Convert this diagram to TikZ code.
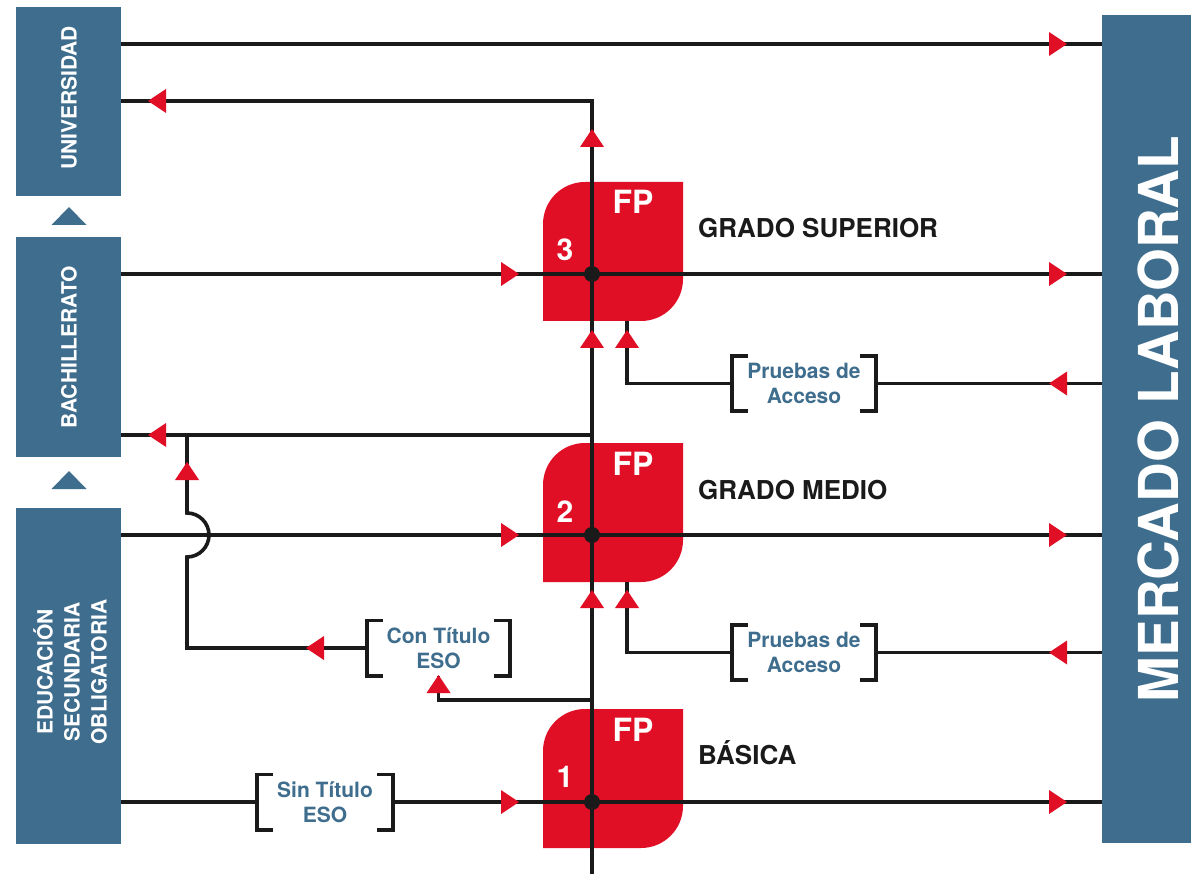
\documentclass[tikz,border=0pt]{standalone}
\usepackage{fontspec}
\setmainfont{TeX Gyre Heros}
\definecolor{boxblue}{HTML}{3E6D8D}
\definecolor{fpred}{HTML}{E00F26}
\definecolor{linek}{HTML}{1A1A1A}
\newcommand{\fpshape}[1]{\fill[fpred] (543,#1+139) -- (543,#1+42) .. controls (543,#1+18.8) and (561.8,#1) .. (585,#1) -- (683,#1) -- (683,#1+97) .. controls (683,#1+120.2) and (664.2,#1+139) .. (641,#1+139) -- cycle;}
\newcommand{\bracketpair}[1]{%
  \draw[bracket] ([xshift=16pt]#1.north west) -| (#1.south west) -- ++(16,0);
  \draw[bracket] ([xshift=-16pt]#1.north east) -| (#1.south east) -- ++(-16,0);}
\begin{document}
\begin{tikzpicture}[x=1pt,y=-1pt,
  conn/.style={draw=linek, line width=3.6pt},
  bracket/.style={draw=linek, line width=3.6pt},
  sidebox/.style={fill=boxblue, inner sep=0pt, outer sep=0pt},
  sidetext/.style={text=white, font=\bfseries\fontsize{21}{27}\selectfont, rotate=90, align=center, inner sep=0pt},
  fptext/.style={text=white, font=\bfseries\fontsize{32}{32}\selectfont, inner sep=0pt, anchor=base},
  numtext/.style={text=white, font=\bfseries\fontsize{30}{30}\selectfont, inner sep=0pt, anchor=base},
  levellabel/.style={text=linek, font=\bfseries\fontsize{26}{26}\selectfont, anchor=base west, inner sep=0pt},
  bracketlabel/.style={text=boxblue, font=\bfseries\fontsize{21}{25}\selectfont, align=center, inner sep=0pt, minimum height=55pt},
  junction/.style={circle, fill=linek, minimum size=16pt, inner sep=0pt},
  fpanchor/.style={minimum width=140pt, minimum height=139pt, inner sep=0pt},
  triR/.pic={\fill[fpred] (-18,-12) -- (0,0) -- (-18,12) -- cycle;},
  triL/.pic={\fill[fpred] (18,-12) -- (0,0) -- (18,12) -- cycle;},
  triU/.pic={\fill[fpred] (-12,18) -- (0,0) -- (12,18) -- cycle;},
]
\useasboundingbox (0,0) rectangle (1191,874);
\fill[white] (0,0) rectangle (1191,874);

% side boxes
\node[sidebox, minimum width=105pt, minimum height=189pt] (uni) at (68.5,101.5) {};
\node[sidebox, minimum width=105pt, minimum height=220pt] (bach) at (68.5,347) {};
\node[sidebox, minimum width=105pt, minimum height=336pt] (eso) at (68.5,676) {};
\node[sidebox, minimum width=89pt, minimum height=828pt] (merc) at (1146.5,429) {};

\node[sidetext] (unitxt) at (69,98) {UNIVERSIDAD};
\node[sidetext] (bachtxt) at (69,347) {BACHILLERATO};
\node[sidetext] (esotxt) at (70,672) {EDUCACIÓN\\SECUNDARIA\\OBLIGATORIA};
\node[text=white, font=\bfseries\fontsize{55}{55}\selectfont, rotate=90, inner sep=0pt] (merctxt) at (1158,419) {MERCADO LABORAL};

\fill[boxblue] (51.5,225) -- (69,207) -- (86.5,225) -- cycle;
\fill[boxblue] (51.5,489) -- (69,471) -- (86.5,489) -- cycle;

% FP boxes
\fpshape{182}
\fpshape{443}
\fpshape{709}
\node[fpanchor] (fp3) at (613,251.5) {};
\node[fpanchor] (fp2) at (613,512.5) {};
\node[fpanchor] (fp1) at (613,778.5) {};
\node[fptext] (fp3t) at (633,214) {FP};
\node[fptext] (fp2t) at (633,475) {FP};
\node[fptext] (fp1t) at (633,741) {FP};
\node[numtext] (n3) at (565,261) {3};
\node[numtext] (n2) at (565,522) {2};
\node[numtext] (n1) at (565,787) {1};

% bracket labels
\node[bracketlabel, minimum width=144pt] (pa1) at (804,383.5) {Pruebas de\\Acceso};
\node[bracketlabel, minimum width=144pt] (pa2) at (804,652.5) {Pruebas de\\Acceso};
\node[bracketlabel, minimum width=143pt] (ct) at (438.5,648) {Con Título\\ESO};
\node[bracketlabel, minimum width=136pt] (st) at (325,802) {Sin Título\\ESO};
\bracketpair{pa1}
\bracketpair{pa2}
\bracketpair{ct}
\bracketpair{st}

% connectors
\coordinate (vtop) at (592,101);
\coordinate (vbot) at (592,874);
\draw[conn] (uni.east |- 0,44) -- (merc.west |- 0,44);
\draw[conn] (uni.east |- vtop) -- (vtop) -- (vbot);
\draw[conn] (bach.east |- 0,274) -- (merc.west |- 0,274);
\draw[conn] (592,435) -- (bach.east |- 0,435);
\draw[conn] (eso.east |- 0,535) -- (merc.west |- 0,535);
\draw[conn] (eso.east |- st.west) -- (st.west);
\draw[conn] (st.east) -- (merc.west |- st.east);
\draw[conn] ([xshift=14pt]fp3.south) |- (pa1.west);
\draw[conn] (pa1.east) -- (merc.west |- pa1.east);
\draw[conn] ([xshift=14pt]fp2.south) |- (pa2.west);
\draw[conn] (pa2.east) -- (merc.west |- pa2.east);
\draw[conn] (592,700) -| (ct.south);
\draw[conn] (ct.west) -- (187,648) -- (187,557) .. controls (199.1,557) and (209,547.1) .. (209,535) .. controls (209,522.9) and (199.1,513) .. (187,513) -- (187,435);

\node[junction] (j3) at (592,274) {};
\node[junction] (j2) at (592,535) {};
\node[junction] (j1) at (592,802) {};

% arrowheads
\pic at (1067,44) {triR};
\pic at (148,101) {triL};
\pic at (592,129) {triU};
\pic at (519,274) {triR};
\pic at (1067,274) {triR};
\pic at (592,330) {triU};
\pic at (627,330) {triU};
\pic at (1049,383.5) {triL};
\pic at (148,435) {triL};
\pic at (187,462) {triU};
\pic at (519,535) {triR};
\pic at (1067,535) {triR};
\pic at (592,590) {triU};
\pic at (627,590) {triU};
\pic at (1049,652.5) {triL};
\pic at (306,648) {triL};
\pic at (438.5,675) {triU};
\pic at (519,802) {triR};
\pic at (1067,802) {triR};

% level labels
\node[levellabel] (gs) at (698,238) {GRADO SUPERIOR};
\node[levellabel] (gm) at (698,499.5) {GRADO MEDIO};
\node[levellabel] (gb) at (698,764.5) {BÁSICA};
\end{tikzpicture}
\end{document}
